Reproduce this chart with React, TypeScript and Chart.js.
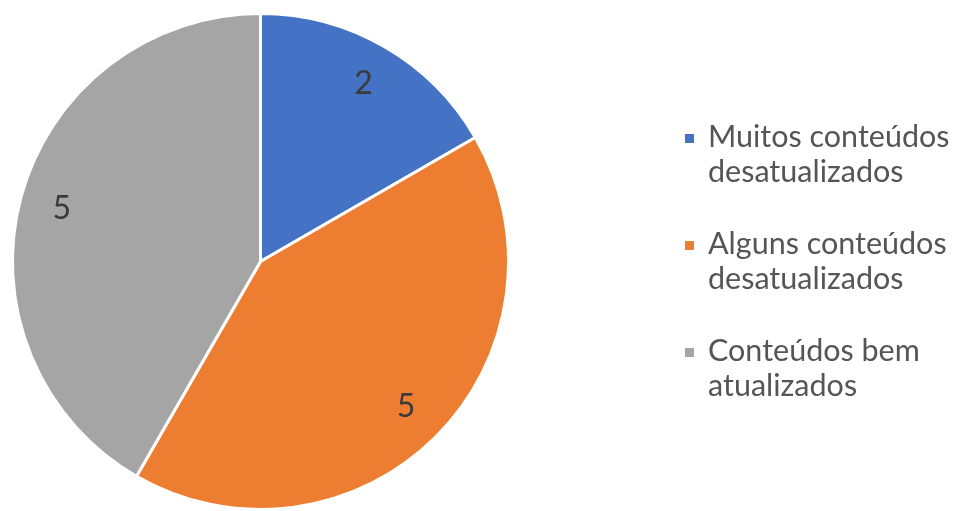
import React, { useEffect, useRef } from "react";
import { Chart, registerables } from "chart.js";

Chart.register(...registerables);

const categories: string[][] = [
  ["Muitos conteúdos", "desatualizados"],
  ["Alguns conteúdos", "desatualizados"],
  ["Conteúdos bem", "atualizados"],
];
const values: number[] = [2, 5, 5];
const colors: string[] = ["#4472C4", "#ED7D31", "#A5A5A5"];

const FONT = "Lato, 'Open Sans', sans-serif";

const labelPlugin = {
  id: "sliceLabels",
  afterDatasetsDraw(chart: any) {
    const ctx = chart.ctx;
    const meta = chart.getDatasetMeta(0);
    ctx.save();
    ctx.font = `32px ${FONT}`;
    ctx.fillStyle = "#3a3a3a";
    ctx.textAlign = "center";
    ctx.textBaseline = "middle";
    meta.data.forEach((arc: any, i: number) => {
      const p = arc.getProps(["x", "y", "startAngle", "endAngle", "outerRadius"], true);
      const mid = (p.startAngle + p.endAngle) / 2;
      const r = p.outerRadius * 0.83;
      ctx.fillText(String(values[i]), p.x + Math.cos(mid) * r, p.y + Math.sin(mid) * r);
    });
    ctx.restore();
  },
};

const legendPlugin = {
  id: "sideLegend",
  afterDraw(chart: any) {
    const ctx = chart.ctx;
    ctx.save();
    ctx.font = `30.5px ${FONT}`;
    ctx.textAlign = "left";
    ctx.textBaseline = "alphabetic";
    const x0 = 685;
    const startY = 147;
    const itemGap = 107;
    const lineGap = 35;
    categories.forEach((lines, i) => {
      const base = startY + i * itemGap;
      ctx.fillStyle = colors[i];
      ctx.fillRect(x0, base - 13, 9, 9);
      ctx.fillStyle = "#555555";
      lines.forEach((t, j) => {
        ctx.fillText(t, x0 + 23, base + j * lineGap);
      });
    });
    ctx.restore();
  },
};

export default function App() {
  const ref = useRef<HTMLCanvasElement | null>(null);
  useEffect(() => {
    document.body.style.margin = "0";
    const canvas = ref.current;
    if (!canvas) return;
    const chart = new Chart(canvas, {
      type: "pie",
      data: {
        labels: categories.map((l) => l.join(" ")),
        datasets: [
          {
            data: values,
            backgroundColor: colors,
            borderColor: "#FFFFFF",
            borderWidth: 3,
          },
        ],
      },
      options: {
        responsive: false,
        animation: false,
        layout: { padding: { left: 11, top: 12, right: 453, bottom: 0 } },
        plugins: {
          legend: { display: false },
          tooltip: { enabled: false },
          title: { display: false },
        },
      },
      plugins: [labelPlugin, legendPlugin],
    });
    return () => chart.destroy();
  }, []);
  return (
    <div style={{ position: "fixed", left: 0, top: 0, width: 963, height: 511, background: "#fff" }}>
      <canvas ref={ref} width={963} height={511} style={{ width: 963, height: 511 }} />
    </div>
  );
}
